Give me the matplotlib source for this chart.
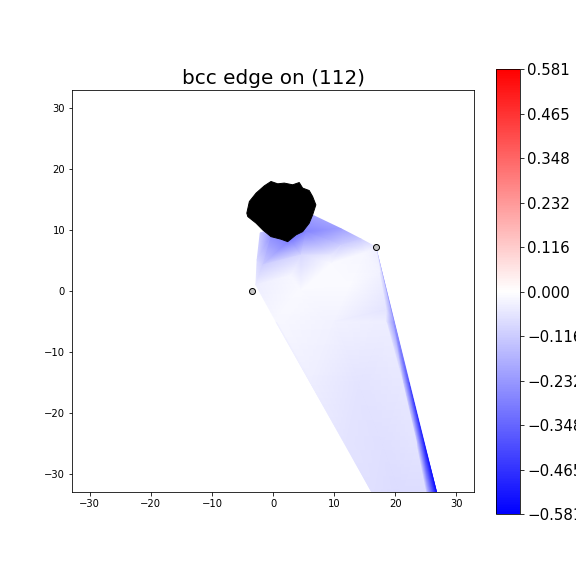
import numpy as np
import matplotlib
matplotlib.use('Agg')
import matplotlib.pyplot as plt
import matplotlib.tri as mtri

# field nodes (x, y in angstrom) and value
# upper wedge between the core and the two markers
up_x = [6.7, 11.1, 14.4, 16.8, 2.9, -0.3, 5.4, -2.1, 4.6, 9.5, 11.1, -2.6, -1.6,
        -2.8, 2.9, 9.5, 15.2]
up_y = [12.3, 10.2, 8.5, 7.2, 8.4, 8.9, 9.7, 9.5, 5.9, 5.9, 7.5, 5.1, 4.3,
        1.0, 2.6, 4.6, 6.4]
up_v = [-0.20, -0.22, -0.12, -0.04, -0.30, -0.25, -0.28, -0.12, -0.09, -0.05, -0.11, -0.09, -0.11,
        -0.04, -0.02, -0.01, -0.02]
# lower strip running down to the bottom edge
low_x = [17.5, 18.6, 4.6, 12.7,
         0.5, 10.0, 18.5, 19.6,
         6.2, 14.0, 21.2, 22.2,
         11.8, 18.0, 23.5, 24.7,
         16.5, 21.0, 25.2, 26.9]
low_y = [3.1, -3.1, 0.2, 1.0,
         -5.0, -5.0, -5.0, -5.0,
         -15.0, -15.0, -15.0, -15.0,
         -25.0, -25.0, -25.0, -25.0,
         -33.5, -33.5, -33.5, -33.5]
low_v = [-0.03, -0.06, -0.01, -0.01,
         -0.015, -0.03, -0.04, -0.22,
         -0.04, -0.06, -0.05, -0.40,
         -0.06, -0.07, -0.06, -0.52,
         -0.07, -0.08, -0.08, -0.58]

# black core blob outline
blob_x = [-4.29, -3.87, -2.77, -1.42, -0.33, 0.77, 1.84, 3.21, 4.29, 4.85, 5.92, 6.48,
          7.01, 6.48, 5.92, 4.85, 3.75, 2.40, 1.31, -0.33, -1.68, -2.77, -4.13]
blob_y = [12.74, 14.64, 16.02, 17.21, 17.92, 17.54, 17.66, 17.38, 17.75, 16.84, 16.44, 15.46,
          14.10, 12.46, 11.10, 9.72, 9.18, 8.08, 8.48, 8.90, 10.0, 11.10, 12.18]

# dislocation markers
pts_x = [-3.43, 16.8]
pts_y = [0.0, 7.2]

vmax = 0.5807

fig = plt.figure(figsize=(8, 8), dpi=72)
ax = fig.add_axes([0.125, 0.1458, 0.698, 0.698])
cax = fig.add_axes([0.861, 0.1076, 0.0417, 0.7726])

tri = mtri.Triangulation(up_x + low_x, up_y + low_y)
pc = ax.tripcolor(tri, up_v + low_v, shading='gouraud', cmap='bwr', vmin=-vmax, vmax=vmax)
ax.fill(blob_x, blob_y, color='black', zorder=3)
ax.plot(pts_x, pts_y, 'o', ms=6, mfc='#c8c8c8', mec='black', mew=1, zorder=4)

ax.set_xlim(-32.9, 32.9)
ax.set_ylim(-32.9, 32.9)
ax.set_aspect('equal')
ax.set_xticks([-30, -20, -10, 0, 10, 20, 30])
ax.set_yticks([-30, -20, -10, 0, 10, 20, 30])
ax.set_title('bcc edge on (112)', fontsize=20)

ticks = np.linspace(-vmax, vmax, 11)
cb = fig.colorbar(pc, cax=cax, ticks=ticks)
cb.ax.set_yticklabels([('%.3f' % t).replace('-', '\u2212') for t in ticks])
cb.ax.tick_params(labelsize=15)

plt.savefig('out.png', dpi=72)
